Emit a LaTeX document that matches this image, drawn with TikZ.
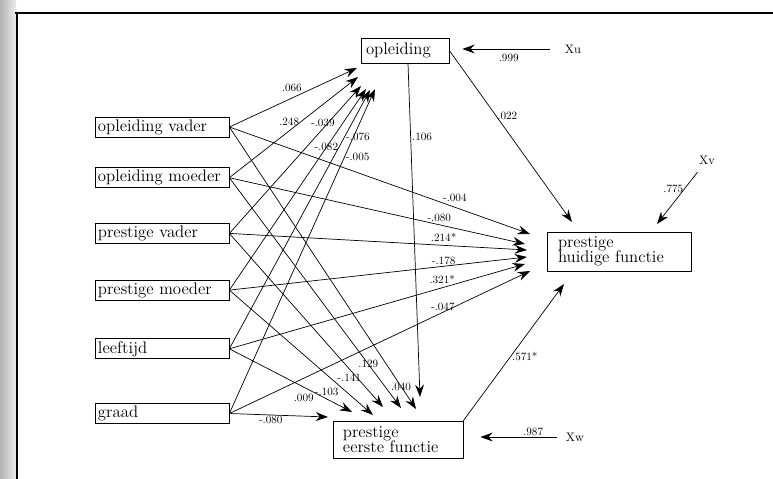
\documentclass[tikz,border=0pt]{standalone}
\usepackage{tikz}
\usetikzlibrary{positioning,arrows.meta,calc}

\begin{document}
\begin{tikzpicture}[
    x=0.03cm, y=-0.03cm,
    var/.style={draw, line width=0.6pt, align=left, inner ysep=0pt,
                font=\fontsize{14.3}{13}\selectfont},
    exo/.style={var, text width=3.84cm, inner xsep=0.9mm, minimum height=0.6cm},
    coef/.style={font=\fontsize{9.5}{10}\selectfont, inner sep=1pt},
    err/.style={font=\fontsize{10.5}{11}\selectfont, inner sep=1pt},
    op/.style={-{Stealth[length=10.5pt, width=7.5pt, inset=3.5pt]}, line width=0.6pt},
    frame/.style={line width=1.3pt},
  ]
  \useasboundingbox (0,0) rectangle (773,479);

  % --- scan margin and frame ---
  \shade[left color=gray!60, right color=gray!15] (0,0) rectangle (16,479);
  \draw[frame] (15,13) -- (773,13);
  \draw[frame] (17,13) -- (17,479);

  % --- exogenous variables (left column) ---
  \node[exo] (opv) at (162,127) {opleiding vader};
  \node[exo, below=0.9cm of opv] (opm) {opleiding moeder};
  \node[exo, below=1.05cm of opm] (prv) {prestige vader};
  \node[exo, below=1.08cm of prv] (prm) {prestige moeder};
  \node[exo, below=1.14cm of prm] (lft) {leeftijd};
  \node[exo, below=1.32cm of lft] (grd) {graad};

  % --- endogenous variables ---
  \node[var, text width=2.34cm, inner xsep=1.5mm, minimum height=0.75cm] (opl)
    at (405,50.5) {opleiding};
  \node[var, text width=3.66cm, inner xsep=3.3mm, minimum height=1.17cm] (phf)
    at (619,251.5) {prestige\\huidige functie};
  \node[var, text width=3.3cm, inner xsep=3mm, minimum height=1.11cm] (pef)
    at (398,439.5) {prestige\\eerste functie};

  % --- residuals ---
  \node[err] (xu) at (573,49) {Xu};
  \node[err] (xv) at (707,160) {Xv};
  \node[err] (xw) at (575,437) {Xw};

  % --- arrow ends (heads stop short of the boxes) ---
  \coordinate (a1) at (357,68);
  \coordinate (a2) at (358,77);
  \coordinate (a3) at (361,86);
  \coordinate (a4) at (366,89);
  \coordinate (a5) at (370,90);
  \coordinate (a6) at (375,89);
  \coordinate (b0) at (572,222);
  \coordinate (b1) at (530,234);
  \coordinate (b2) at (525,244);
  \coordinate (b3) at (527,250);
  \coordinate (b4) at (527,257);
  \coordinate (b5) at (525,264);
  \coordinate (b6) at (530,271);
  \coordinate (b7) at (564,284);
  \coordinate (bv) at (657,224);
  \coordinate (c0) at (420,397);
  \coordinate (c1) at (328,417);
  \coordinate (c2) at (352,412);
  \coordinate (c3) at (373,415);
  \coordinate (c4) at (383,407);
  \coordinate (c5) at (401,408);
  \coordinate (c6) at (416,409);

  % --- arrows: background -> opleiding ---
  \draw[op] (opv.east) -- node[coef, pos=0.49, above=1.5mm] {.066} (a1);
  \draw[op] (opm.east) -- node[coef, pos=0.465, above=1.2mm] {.248} (a2);
  \draw[op] (prv.east) -- node[coef, pos=0.71, above] {-.039} (a3);
  \draw[op] (prm.east) -- node[coef, pos=0.71, anchor=center] {-.082} (a4);
  \draw[op] (lft.east) -- node[coef, pos=0.82, right] {-.076} (a5);
  \draw[op] (grd.east) -- node[coef, pos=0.79, right] {-.005} (a6);

  % --- arrows: background -> prestige huidige functie ---
  \draw[op] (opv.east) -- node[coef, pos=0.75, above=1.3mm] {-.004} (b1);
  \draw[op] (opm.east) -- node[coef, pos=0.71, above=0.6mm] {-.080} (b2);
  \draw[op] (prv.east) -- node[coef, pos=0.72, above=0.7mm] {.214*} (b3);
  \draw[op] (prm.east) -- node[coef, pos=0.72, above] {-.178} (b4);
  \draw[op] (lft.east) -- node[coef, pos=0.72, above=0.6mm] {.321*} (b5);
  \draw[op] (grd.east) -- node[coef, pos=0.71, above] {-.047} (b6);

  % --- arrows: background -> prestige eerste functie ---
  \draw[op] (opv.east) -- node[coef, pos=0.92, anchor=center] {.040} (c6);
  \draw[op] (opm.east) -- node[coef, pos=0.81, anchor=center] {.129} (c5);
  \draw[op] (prv.east) -- node[coef, pos=0.78, below=1mm] {-.141} (c4);
  \draw[op] (prm.east) -- node[coef, pos=0.77, below left] {-.103} (c3);
  \draw[op] (lft.east) -- node[coef, pos=0.7, below left] {.009} (c2);
  \draw[op] (grd.east) -- node[coef, pos=0.42, below] {-.080} (c1);

  % --- arrows: between the endogenous variables ---
  \draw[op] ($(opl.south)+(3,0)$) -- node[coef, pos=0.22, right] {.106} (c0);
  \draw[op] (opl.east) -- node[coef, pos=0.38, right] {.022} (b0);
  \draw[op] (pef.north east) -- node[coef, pos=0.47, right] {.571*} (b7);

  % --- arrows: residuals ---
  \draw[op, shorten <=4mm, shorten >=3.9mm] (xu.west)
    -- node[coef, pos=0.48, below=1mm] {.999} (xu.west -| opl.east);
  \draw[op, shorten <=2.4mm] (xv) -- node[coef, pos=0.39, left] {.775} (bv);
  \draw[op, shorten <=2.4mm, shorten >=5.1mm] (xw.west)
    -- node[coef, pos=0.31, above] {.987} (xw.west -| pef.east);
\end{tikzpicture}
\end{document}
